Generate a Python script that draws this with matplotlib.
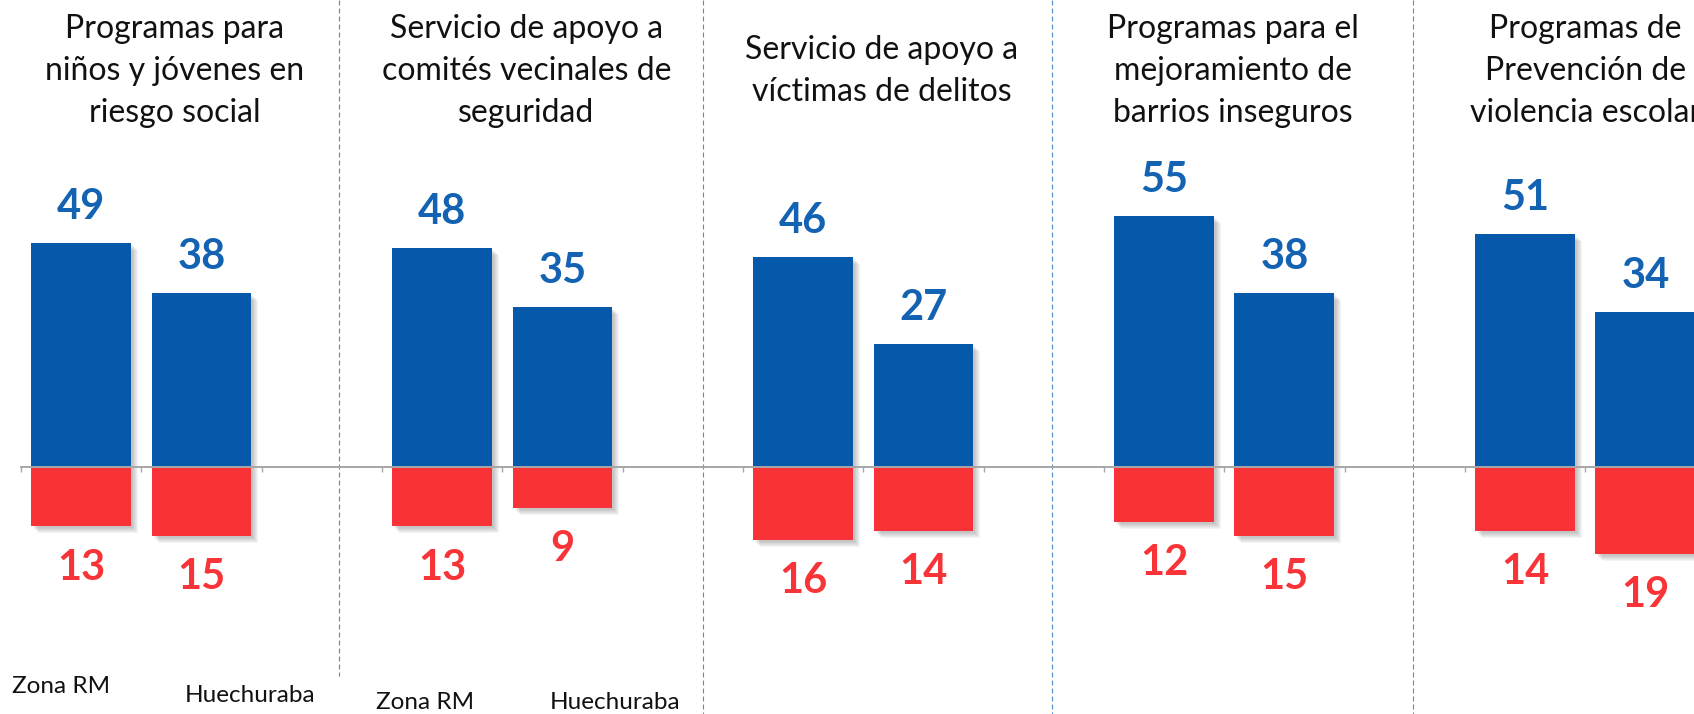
import matplotlib
matplotlib.use('Agg')
import matplotlib.pyplot as plt
import numpy as np

# values
titles = ['Programas para\nniños y jóvenes en\nriesgo social',
          'Servicio de apoyo a\ncomités vecinales de\nseguridad',
          'Servicio de apoyo a\nvíctimas de delitos',
          'Programas para el\nmejoramiento de\nbarrios inseguros',
          'Programas de\nPrevención de\nviolencia escolar']
groups = ['Zona RM', 'Huechuraba']
positive = [49, 38, 48, 35, 46, 27, 55, 38, 51, 34]   # blue, above axis
negative = [13, 15, 13, 9, 16, 14, 12, 15, 14, 19]    # red, below axis

# layout (data units: one slot per bar, empty slot between panels)
bar_x = [0, 1, 3, 4, 6, 7, 9, 10, 12, 13]
title_x = [0.78, 3.70, 6.65, 9.57, 12.50]
divider_x = [2.143, 5.168, 8.068, 11.068]
divider_bottom = [-45.7, -54.05, -54.05, -54.05]
group_lab_x = [-0.17, 1.40, 2.86, 4.44]
group_lab_y = [-48.1, -49.9, -51.6, -51.6]

blue = '#0558AA'
blue_txt = '#1463B3'
red = '#F83236'
red_txt = '#F83438'

W, H = 1694, 714
fig = plt.figure(figsize=(W / 100, H / 100), dpi=100)
ax = fig.add_axes([0, 0, 1, 1])
xmin, xmax = -0.6745, 13.404
ymin, ymax = -54.05, 102.19
ax.set_xlim(xmin, xmax)
ax.set_ylim(ymin, ymax)

pxx = (xmax - xmin) / W   # one pixel in x data units
pxy = (ymax - ymin) / H   # one pixel in y data units
bw = 0.83

x = np.array(bar_x, dtype=float)
pos = np.array(positive, dtype=float)
neg = np.array(negative, dtype=float)

# soft drop shadow
for s in range(2, 8):
    ax.bar(x + s * pxx, pos, bottom=-s * pxy, width=bw, color='#303030',
           alpha=0.05, linewidth=0, zorder=1)
    ax.bar(x + s * pxx, -neg, bottom=-s * pxy, width=bw, color='#303030',
           alpha=0.05, linewidth=0, zorder=1)

ax.bar(x, pos, width=bw, color=blue, linewidth=0, zorder=2)
ax.bar(x, -neg, width=bw, color=red, linewidth=0, zorder=3)

num_font = dict(family=['Lato', 'DejaVu Sans'], fontsize=30, fontweight='bold',
                ha='center', va='center')
for xi, p, n in zip(x, pos, neg):
    ax.text(xi, p + 7.9, f'{int(p)}', color=blue_txt, **num_font)
    ax.text(xi, -n - 9.0, f'{int(n)}', color=red_txt, **num_font)

for tx, t in zip(title_x, titles):
    ax.text(tx, 86.6, t, ha='center', va='center', fontsize=23,
            family=['Lato', 'DejaVu Sans'], color='#111111', linespacing=1.5)

for i, (gx, gy) in enumerate(zip(group_lab_x, group_lab_y)):
    ax.text(gx, gy, groups[i % 2], ha='center', va='center', fontsize=17.5,
            family=['Lato', 'DejaVu Sans'], color='#111111')

for dx, db in zip(divider_x, divider_bottom):
    ax.plot([dx, dx], [ymax, db], color='#5A8AC6', lw=0.8,
            linestyle=(0, (4.5, 2.7)), zorder=0)

# horizontal axis through zero with outward ticks at slot edges
for side in ['top', 'right', 'left']:
    ax.spines[side].set_visible(False)
ax.spines['bottom'].set_position(('data', 0))
ax.spines['bottom'].set_bounds(-0.5, xmax)
ax.spines['bottom'].set_color('#A6A6A6')
ax.spines['bottom'].set_linewidth(1.4)
ax.spines['bottom'].set_zorder(4)
ax.set_xticks(np.arange(-0.5, 13.5, 1))
ax.set_xticklabels([])
ax.tick_params(axis='x', direction='out', length=3.6, width=1, color='#A6A6A6')
ax.set_yticks([])

fig.savefig('out.png', dpi=100)
